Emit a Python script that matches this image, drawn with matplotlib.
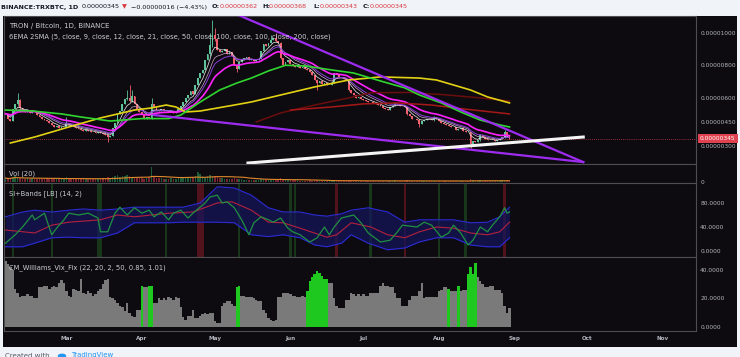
import numpy as np
import pandas as pd
import matplotlib
matplotlib.use("Agg")
import matplotlib.pyplot as plt
import matplotlib.transforms as mtransforms
from matplotlib.patches import Rectangle, Circle

# x axis = days counted from 1 Mar 2018, candles run 4 Feb .. 30 Aug
first_day = -25

# daily closes, satoshi (1e-8 BTC)
closes = [
    # Feb
    500, 470, 455, 530, 560, 585, 535, 520, 510, 525, 505, 515, 510, 495, 480,
    470, 462, 455, 445, 430, 420, 425, 410, 415, 420,
    # Mar
    445, 430, 425, 415, 410, 405, 400, 395, 400, 395, 390, 385, 380, 385, 378,
    375, 370, 355, 365, 410, 440, 500, 520, 560, 590, 600, 580, 610, 560, 530, 510,
    # Apr
    500, 470, 480, 475, 560, 540, 525, 520, 530, 515, 515, 510, 520, 505, 510,
    530, 545, 570, 600, 615, 640, 620, 680, 720, 750, 770, 830, 870, 925, 990,
    # May
    960, 895, 880, 890, 900, 870, 880, 860, 800, 780, 820, 835, 845, 850, 830,
    840, 825, 835, 840, 890, 930, 920, 940, 955, 970, 950, 940, 845, 800, 820, 830,
    # Jun
    810, 795, 790, 800, 785, 790, 775, 770, 760, 740, 710, 690, 700, 685, 690,
    675, 680, 690, 750, 740, 730, 725, 715, 710, 650, 630, 615, 600, 605, 590,
    # Jul
    585, 580, 575, 570, 565, 560, 555, 545, 535, 530, 525, 540, 550, 565, 560,
    550, 545, 540, 500, 485, 470, 465, 460, 435, 455, 460, 470, 465, 460, 480, 470,
    # Aug
    455, 440, 435, 430, 425, 420, 415, 400, 405, 410, 395, 390, 385, 310, 330,
    325, 335, 370, 355, 345, 340, 335, 340, 330, 335, 345, 355, 385, 362, 345,
]

# visible wicks (day: high, low)
wicks = {
    -20: (630, 550), -19: (590, 525), 0: (480, 415), 17: (375, 325),
    25: (650, 585), 26: (678, 570), 27: (650, 575), 35: (600, 470),
    59: (1000, 860), 60: (1080, 915), 61: (1030, 950), 70: (805, 760),
    84: (990, 935), 86: (1000, 945), 88: (945, 840), 103: (715, 647),
    116: (712, 640), 140: (545, 495), 145: (465, 420), 151: (485, 455),
    166: (390, 290), 170: (375, 330), 180: (400, 350), 182: (368, 343),
}

volumes = [
    4, 3, 4, 5, 6, 4, 4, 3, 3, 4, 3, 4, 3, 3, 4, 3, 3, 4, 3, 3, 4, 3, 3, 3, 4,
    5, 4, 3, 3, 3, 3, 3, 3, 3, 3, 3, 3, 3, 3, 3, 4, 3, 5, 4, 5, 6, 7, 5, 6, 6, 7, 6, 5, 5, 4, 4,
    4, 3, 4, 5, 15, 6, 4, 4, 4, 3, 3, 3, 4, 3, 3, 4, 4, 5, 5, 5, 4, 5, 6, 10, 8, 6, 5, 6, 7, 6,
    6, 5, 4, 4, 3, 3, 3, 3, 4, 3, 3, 3, 2, 2, 2, 2, 2, 2, 2, 3, 3, 3, 2, 2, 3, 2, 2, 4, 3, 2, 2,
    2, 2, 2, 2, 1, 1, 1, 1, 2, 1, 2, 2, 1, 1, 1, 1, 1, 1, 2, 1, 1, 1, 1, 2, 2, 1, 1, 1, 1, 1,
    1, 1, 1, 1, 1, 1, 1, 1, 1, 1, 1, 1, 1, 2, 1, 1, 1, 1, 2, 2, 1, 1, 1, 2, 1, 1, 1, 1, 1, 1, 1,
    1, 1, 1, 1, 1, 1, 1, 1, 1, 1, 1, 1, 1, 3, 2, 1, 1, 2, 1, 1, 1, 1, 1, 1, 1, 1, 2, 1, 1, 1,
]

vix = [
    46, 44, 42, 40, 27, 24, 21, 22, 22, 23, 22, 22, 20, 20, 28, 28, 29, 29, 27, 28, 29, 28, 31, 33, 31,
    25, 22, 21, 27, 26, 25, 34, 24, 23, 25, 24, 22, 23, 25, 27, 30, 33, 34, 21, 20, 19, 17, 15, 14,
    11, 17, 10, 8, 7, 12, 12,
    29, 28, 28, 29, 29, 17, 17, 20, 19, 20, 19, 21, 20, 19, 21, 20, 14, 7, 5, 8, 8, 12, 6, 6,
    8, 9, 10, 9, 10, 10,
    4, 3, 3, 15, 17, 18, 18, 16, 15, 28, 29, 22, 22, 21, 21, 21, 20, 19, 18, 18, 12, 10, 6, 5,
    4, 5, 21, 21, 24, 24, 24,
    23, 22, 22, 21, 21, 22, 21, 25, 32, 35, 37, 39, 38, 36, 34, 34, 31, 31, 20, 15, 13, 13, 13,
    19, 19, 24, 23, 22, 23, 22,
    23, 22, 22, 24, 24, 24, 24, 29, 31, 29, 29, 28, 28, 24, 20, 20, 15, 15, 15, 19, 22, 22, 22,
    25, 31, 20, 21, 21, 21, 21, 21,
    25, 26, 28, 28, 27, 25, 25, 25, 29, 25, 26, 26, 37, 42, 37, 45, 35, 32, 30, 28, 28, 29, 29,
    26, 26, 26, 24, 15, 10, 13,
]
vix_green_days = [31, 34, 35, 70, 71, 99, 100, 101, 102, 103, 104, 105, 106, 107,
                  157, 161, 165, 166, 167, 168]

# long moving averages
ma_green_days = [-25, -14, -2, 6, 18, 31, 42, 47, 55, 63, 70, 76, 83, 90, 98, 109,
                 118, 129, 139, 145, 154, 162, 170, 178, 182]
ma_green_vals = [523, 517, 499, 480, 455, 470, 470, 492, 573, 647, 690, 721, 765, 800,
                 796, 771, 752, 703, 660, 616, 567, 511, 461, 431, 418]
ma_yellow_days = [-23, -13, 1, 14, 28, 35, 41, 45, 49, 55, 69, 76, 88, 102, 116, 129,
                  145, 152, 159, 166, 173, 182]
ma_yellow_vals = [319, 356, 418, 474, 523, 536, 554, 542, 511, 517, 554, 573, 616, 666,
                  709, 728, 721, 709, 678, 647, 604, 567]
sma_dark_days = [78, 88, 102, 116, 125, 140, 155, 170, 182]
sma_dark_vals = [449, 505, 554, 598, 630, 632, 618, 598, 579]
sma_red_days = [92, 109, 122, 136, 150, 163, 182]
sma_red_vals = [523, 542, 561, 567, 554, 530, 499]

# drawn trend lines
wedge_top_days, wedge_top_vals = [70, 212.3], [1115, 201]
wedge_bot_days, wedge_bot_vals = [36, 212.3], [492, 201]
support_days, support_vals = [74.6, 212.3], [195, 356]

last_price = 345

# SI + bands
si_days = [-25, -21, -18, -14, -13, -9, -6, -4, -1, 1, 5, 9, 13, 14, 17, 20, 22, 25, 28, 31,
           34, 36, 39, 42, 44, 47, 50, 52, 57, 59, 62, 64, 66, 69, 72, 75, 77, 80, 83, 85,
           88, 91, 93, 96, 100, 103, 106, 108, 110, 113, 118, 121, 124, 129, 133, 136, 138,
           144, 147, 150, 154, 157, 159, 162, 165, 167, 170, 173, 175, 178, 180, 181, 182]
si_vals = [13, 27, 40, 60, 52, 63, 27, 38, 52, 63, 60, 63, 55, 32, 32, 63, 73, 60, 72, 63,
           68, 57, 65, 52, 63, 68, 55, 63, 80, 90, 93, 80, 82, 72, 52, 27, 47, 57, 52, 48,
           55, 38, 32, 27, 15, 22, 40, 27, 40, 55, 60, 47, 30, 15, 18, 32, 43, 40, 48, 43,
           23, 30, 43, 30, 10, 18, 40, 32, 43, 57, 72, 63, 65]
basis_days = [-25, -13, -6, 1, 14, 21, 28, 42, 52, 62, 68, 76, 83, 89, 96, 107, 111, 117,
              125, 132, 139, 145, 152, 159, 166, 173, 178, 182]
basis_vals = [35, 30, 43, 48, 52, 60, 57, 63, 65, 80, 82, 68, 48, 47, 38, 23, 27, 47,
              40, 27, 22, 32, 40, 38, 30, 27, 32, 48]
band_days = [-25, -18, -13, -6, 1, 7, 14, 21, 28, 35, 42, 48, 55, 62, 69, 76, 83, 89, 96,
             102, 107, 113, 117, 124, 132, 139, 145, 152, 159, 166, 173, 178, 182]
band_upper = [57, 65, 68, 65, 68, 70, 68, 70, 73, 73, 73, 73, 80, 107, 105, 93, 72, 65, 65,
              60, 58, 62, 68, 72, 65, 48, 52, 52, 52, 47, 48, 57, 73]
band_lower = [7, 7, 13, 22, 23, 22, 22, 30, 47, 47, 47, 48, 48, 48, 47, 27, 24, 27, 22,
              10, 7, 13, 27, 13, 2, 5, 15, 22, 22, 10, 7, 7, 22]
hl_green_days = [-22, -6, 13, 14, 41, 71, 92, 94, 125, 153, 164]
hl_red_days = [54, 55, 56, 111, 139, 180]

month_days = [0, 31, 61, 92, 122, 153, 184, 214, 245]
month_labels = ['Mar', 'Apr', 'May', 'Jun', 'Jul', 'Aug', 'Sep', 'Oct', 'Nov']

assert len(volumes) == len(closes) and len(vix) == len(closes)

DARK = '#0e0b10'
LIGHT = '#f0f3f7'
EDGE = '#4e4e52'
TXT = '#c9ccd4'
TXT2 = '#b2b5be'
UP = '#5fc39a'
DOWN = '#f0606c'

days = np.arange(first_day, first_day + len(closes))
close = np.array(closes, float)
opens = np.r_[close[0], close[:-1]]
highs = np.maximum(opens, close)
lows = np.minimum(opens, close)
for d, (h, l) in wicks.items():
    highs[d - first_day] = h
    lows[d - first_day] = l
up = close >= opens
cols = np.where(up, UP, DOWN)

W, H = 740, 357


def box(x0, y0, x1, y1):
    return [x0 / W, 1 - y1 / H, (x1 - x0) / W, (y1 - y0) / H]


def ftext(x, y, s, **kw):
    fig.text(x / W, 1 - y / H, s, **kw)


fig = plt.figure(figsize=(W / 100, H / 100), dpi=100, facecolor=LIGHT)
fig.add_artist(Rectangle((3 / W, 1 - 347 / H), 734 / W, 331 / H,
                         transform=fig.transFigure, facecolor=DARK,
                         edgecolor='none', zorder=0))

ax = fig.add_axes(box(4, 16, 696, 164))
axv = fig.add_axes(box(4, 164, 696, 183), sharex=ax)
axs = fig.add_axes(box(4, 183, 696, 257), sharex=ax)
axx = fig.add_axes(box(4, 257, 696, 331), sharex=ax)

for a in (ax, axv, axs, axx):
    a.set_facecolor(DARK)
    for sp in a.spines.values():
        sp.set_color(EDGE)
        sp.set_linewidth(0.8)
    a.yaxis.tick_right()
    a.tick_params(axis='y', length=0, pad=3, labelsize=4.2, labelcolor=TXT2)
    a.tick_params(axis='x', length=0, labelbottom=False)

ax.set_xlim(-25.6, 258.6)

# --- price pane
body_b = np.minimum(opens, close)
body_h = np.maximum(np.abs(close - opens), 5)
ax.vlines(days, lows, highs, colors=cols, lw=0.6, zorder=2)
ax.bar(days, body_h, bottom=body_b, width=0.75, color=cols, lw=0, zorder=2)

s = pd.Series(close)
for span, c, lw in [(5, '#eeeeee', 0.5), (9, '#c9a6c9', 0.5), (12, '#8a3bdc', 0.7),
                    (21, '#ff22ff', 1.2)]:
    ax.plot(days, s.ewm(span=span, adjust=False).mean(), color=c, lw=lw, zorder=3)

ax.plot(sma_dark_days, sma_dark_vals, color='#6a0d0d', lw=1.1, zorder=3)
ax.plot(sma_red_days, sma_red_vals, color='#a51818', lw=1.1, zorder=3)
ax.plot(ma_yellow_days, ma_yellow_vals, color='#e2d214', lw=1.2, zorder=3)
ax.plot(ma_green_days, ma_green_vals, color='#2fd62f', lw=1.2, zorder=3)

ax.plot(wedge_top_days, wedge_top_vals, color='#9d2bf0', lw=1.6, zorder=4)
ax.plot(wedge_bot_days, wedge_bot_vals, color='#9d2bf0', lw=1.6, zorder=4)
ax.plot(support_days, support_vals, color='#f4f4f4', lw=2.2, zorder=4)

ax.axhline(last_price, color='#c23a46', lw=0.6, ls=(0, (1, 1.5)), zorder=1)
ax.set_ylim(189, 1105)
price_ticks = [300, 450, 600, 800, 1000]
ax.set_yticks(price_ticks)
ax.set_yticklabels([f"{v * 1e-8:.8f}" for v in price_ticks])
tr = mtransforms.blended_transform_factory(ax.transAxes, ax.transData)
ax.text(1 + 4 / 692, last_price, f"{last_price * 1e-8:.8f}", transform=tr,
        ha='left', va='center', fontsize=4.2, color='white', clip_on=False,
        bbox=dict(boxstyle='square,pad=0.35', fc='#e0434f', ec='none'))

# --- volume pane
vcols = np.where(up, '#1d5c39', '#7a2430')
axv.bar(days, volumes, width=0.65, color=vcols, lw=0)
axv.plot(days, pd.Series(volumes, dtype=float).rolling(20, min_periods=1).mean(),
         color='#e0892c', lw=0.8)
axv.set_ylim(-1, 18)
axv.set_yticks([0])
axv.set_yticklabels(['0'])

# --- SI + bands pane
for d in hl_green_days:
    axs.axvspan(d - 0.5, d + 0.5, color='#17361a', lw=0, zorder=0)
for d in hl_red_days:
    axs.axvspan(d - 0.5, d + 0.5, color='#52121b', lw=0, zorder=0)
axs.fill_between(band_days, band_lower, band_upper, color='#15155a', alpha=0.75, lw=0, zorder=1)
axs.plot(band_days, band_upper, color='#2b2bd6', lw=0.8, zorder=2)
axs.plot(band_days, band_lower, color='#2b2bd6', lw=0.8, zorder=2)
axs.plot(basis_days, basis_vals, color='#b3213d', lw=0.8, zorder=3)
axs.plot(si_days, si_vals, color='#1f9040', lw=0.9, zorder=3)
axs.set_ylim(-10, 113.3)
axs.set_yticks([0, 40, 80])
axs.set_yticklabels(['0.0000', '40.0000', '80.0000'])

# --- Williams Vix Fix pane
vcol = ['#1ec81e' if d in vix_green_days else '#7a7a7a' for d in days]
axx.bar(days, vix, width=1.0, color=vcol, lw=0)
axx.set_ylim(-2.8, 49.1)
axx.set_yticks([0, 20, 40])
axx.set_yticklabels(['0.0000', '20.0000', '40.0000'])
axx.set_xticks(month_days)
axx.set_xticklabels(month_labels, fontweight='bold')
axx.tick_params(axis='x', labelbottom=True, pad=3.6, labelsize=4.1, labelcolor=TXT2)

# --- legends / titles
ftext(9, 26, "TRON / Bitcoin, 1D, BINANCE", fontsize=5, color=TXT, va='center', zorder=10)
ftext(9, 37, "6EMA 2SMA (5, close, 9, close, 12, close, 21, close, 50, close, 100, close, "
      "100, close, 200, close)", fontsize=4.9, color=TXT, va='center', zorder=10)
ftext(9, 174, "Vol (20)", fontsize=4.9, color=TXT, va='center')
ftext(9, 194, "SI+Bands [LB] (14, 2)", fontsize=4.9, color=TXT, va='center')
ftext(9, 268, "CM_Williams_Vix_Fix (22, 20, 2, 50, 0.85, 1.01)", fontsize=4.9,
      color=TXT, va='center')

# --- header line
HDR = '#131722'
RED = '#d9363e'
header = [
    (1, "BINANCE:TRXBTC, 1D", HDR, 'bold'),
    (82, "0.00000345", HDR, 'normal'),
    (122, "\u25bc", RED, 'normal'),
    (131, "\u22120.00000016 (\u22124.43%)", HDR, 'normal'),
    (212, "O:", HDR, 'bold'), (220, "0.00000362", RED, 'normal'),
    (262, "H:", HDR, 'bold'), (269, "0.00000368", RED, 'normal'),
    (313, "L:", HDR, 'bold'), (320, "0.00000343", RED, 'normal'),
    (363, "C:", HDR, 'bold'), (370, "0.00000345", RED, 'normal'),
]
for x, txt, c, wt in header:
    ftext(x, 7, txt, fontsize=4.6, color=c, fontweight=wt, va='center')

# --- footer
ftext(5, 355.5, "Created with", fontsize=5, color='#555a66', va='center')
fig.add_artist(Circle((62 / W, 1 - 356 / H), 3.5 / W, transform=fig.transFigure,
                      color='#2196f3'))
ftext(71, 355.5, "TradingView", fontsize=5, color='#2196f3', va='center')

fig.savefig("out.png", dpi=100, facecolor=LIGHT)
